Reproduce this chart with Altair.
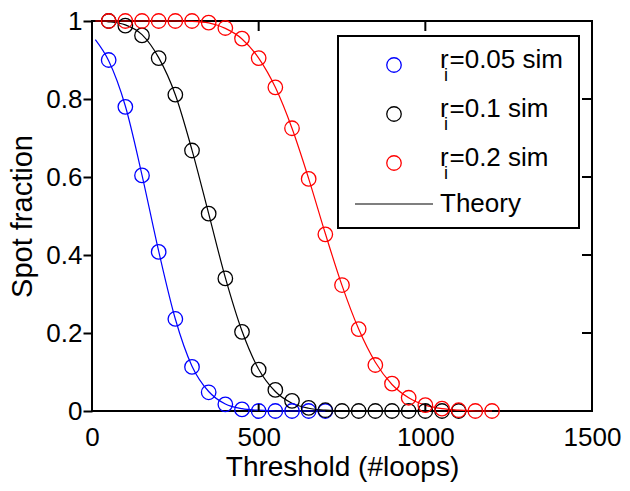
import altair as alt
import pandas as pd

FONT = "Liberation Sans"

# ---------------- data ----------------
series_names = ["r_i=0.05 sim", "r_i=0.1 sim", "r_i=0.2 sim"]
series_colors = ["#0000ff", "#000000", "#ff0000"]

sim_blue_x = [50, 100, 150, 200, 250, 300, 350, 400, 450, 500, 550, 600, 650, 700]
sim_blue_y = [0.90, 0.78, 0.604, 0.408, 0.236, 0.113, 0.048, 0.017, 0.004, 0, 0, 0, 0, 0]

sim_black_x = [50, 100, 150, 200, 250, 300, 350, 400, 450, 500, 550, 600, 650, 700,
               750, 800, 850, 900, 950, 1000, 1050, 1100]
sim_black_y = [1.0, 0.988, 0.963, 0.905, 0.811, 0.668, 0.506, 0.34, 0.203, 0.106, 0.054,
               0.026, 0.008, 0.002, 0, 0, 0, 0, 0, 0, 0, 0]

sim_red_x = [50, 100, 150, 200, 250, 300, 350, 400, 450, 500, 550, 600, 650, 700, 750,
             800, 850, 900, 950, 1000, 1050, 1100, 1150, 1200]
sim_red_y = [1, 1, 1, 1, 1, 1, 0.996, 0.982, 0.955, 0.905, 0.83, 0.725, 0.595, 0.453,
             0.323, 0.21, 0.118, 0.07, 0.034, 0.015, 0.006, 0.002, 0, 0]

th_blue_x = [10, 50, 100, 150, 200, 250, 300, 350, 400, 450, 500, 550, 600, 650, 700]
th_blue_y = [0.952, 0.898, 0.782, 0.605, 0.41, 0.236, 0.115, 0.05, 0.018, 0.006, 0.002,
             0, 0, 0, 0]

th_black_x = [10, 50, 100, 150, 200, 250, 300, 350, 400, 450, 500, 550, 600, 650, 700,
              750, 800, 850, 900, 950, 1000, 1050, 1100]
th_black_y = [1.0, 0.998, 0.99, 0.965, 0.906, 0.811, 0.669, 0.506, 0.342, 0.205, 0.107,
              0.05, 0.02, 0.007, 0.002, 0, 0, 0, 0, 0, 0, 0, 0]

th_red_x = [10, 50, 100, 150, 200, 250, 300, 350, 400, 450, 500, 550, 600, 650, 700, 750,
            800, 850, 900, 950, 1000, 1050, 1100, 1150, 1200]
th_red_y = [1, 1, 1, 1, 1, 1, 0.999, 0.995, 0.981, 0.954, 0.905, 0.83, 0.725, 0.596,
            0.455, 0.322, 0.21, 0.125, 0.068, 0.034, 0.015, 0.006, 0.002, 0, 0]

x_ticks = [0, 500, 1000, 1500]
y_ticks = [0, 0.2, 0.4, 0.6, 0.8, 1.0]

legend_rest = ["=0.05 sim", "=0.1 sim", "=0.2 sim"]
legend_theory = "Theory"

# ---------------- tables ----------------
def build(groups):
    rows = []
    for name, xs, ys in groups:
        for x, y in zip(xs, ys):
            rows.append({"series": name, "threshold": x, "fraction": y})
    return pd.DataFrame(rows)

sim_df = build([(series_names[0], sim_blue_x, sim_blue_y),
                (series_names[1], sim_black_x, sim_black_y),
                (series_names[2], sim_red_x, sim_red_y)])
th_df = build([(series_names[0], th_blue_x, th_blue_y),
               (series_names[1], th_black_x, th_black_y),
               (series_names[2], th_red_x, th_red_y)])

W, H = 500, 390

xscale = alt.Scale(domain=[0, 1500], nice=False, zero=False)
yscale = alt.Scale(domain=[0, 1], nice=False)
cscale = alt.Scale(domain=series_names, range=series_colors)

x_axis = alt.Axis(title="Threshold (#loops)", values=x_ticks, ticks=False, tickSize=0,
                  domain=False, grid=False, labelFontSize=26, labelPadding=13.5,
                  labelFont=FONT, titleFont=FONT, titleFontSize=28, titlePadding=3,
                  titleFontWeight="normal", labelColor="black", titleColor="black",
                  labelFlush=False, labelOverlap=False, format="d")
y_axis = alt.Axis(title="Spot fraction", values=y_ticks, tickSize=9, tickWidth=2,
                  tickColor="black", domain=False, grid=False, labelFontSize=26,
                  labelPadding=1, labelFont=FONT, titleFont=FONT, titleFontSize=29,
                  titlePadding=8, titleFontWeight="normal", labelColor="black",
                  titleColor="black", labelFlush=False, labelOverlap=False,
                  format=".1~f")

X = alt.X("threshold:Q", scale=xscale, axis=x_axis)
Y = alt.Y("fraction:Q", scale=yscale, axis=y_axis)
C = alt.Color("series:N", scale=cscale, legend=None)

lines = alt.Chart(th_df).mark_line(strokeWidth=1.2, interpolate="monotone").encode(
    x=X, y=Y, color=C, detail="series:N")
points = alt.Chart(sim_df).mark_point(shape="circle", filled=False, size=210,
                                      strokeWidth=1.3, opacity=1).encode(
    x=X, y=Y, color=C)

# inward ticks on bottom / top / right
xt_df = pd.DataFrame({"threshold": x_ticks})
yt_df = pd.DataFrame({"fraction": y_ticks})
bottom_ticks = alt.Chart(xt_df).mark_rule(color="black", strokeWidth=2).encode(
    x=alt.X("threshold:Q", scale=xscale), y=alt.value(H), y2=alt.value(H - 7))
top_ticks = alt.Chart(xt_df).mark_rule(color="black", strokeWidth=2).encode(
    x=alt.X("threshold:Q", scale=xscale), y=alt.value(0), y2=alt.value(10))
right_ticks = alt.Chart(yt_df).mark_rule(color="black", strokeWidth=2).encode(
    y=alt.Y("fraction:Q", scale=yscale), x=alt.value(W), x2=alt.value(W - 10))

# ---------------- legend (drawn manually) ----------------
LX = W - 13 - 241   # legend box left edge
one = pd.DataFrame({"k": [0]})
legend_layers = [
    alt.Chart(one).mark_rect(fill="white", stroke="black", strokeWidth=2).encode(
        x=alt.value(LX), x2=alt.value(LX + 241), y=alt.value(15), y2=alt.value(207))
]
row_y = [44, 93, 142]
for i in range(3):
    d = pd.DataFrame({"label": [series_names[i]], "rest": [legend_rest[i]]})
    legend_layers.append(
        alt.Chart(d).mark_point(shape="circle", filled=False, size=210, strokeWidth=1.3,
                                opacity=1, color=series_colors[i]).encode(
            x=alt.value(LX + 56), y=alt.value(row_y[i])))
    legend_layers.append(
        alt.Chart(d).mark_text(align="left", baseline="alphabetic", font=FONT,
                               fontSize=26, color="black").encode(
            x=alt.value(LX + 102), y=alt.value(row_y[i] + 3), text=alt.value("r")))
    legend_layers.append(
        alt.Chart(d).mark_text(align="left", baseline="alphabetic", font=FONT,
                               fontSize=18, color="black").encode(
            x=alt.value(LX + 106), y=alt.value(row_y[i] + 16), text=alt.value("i")))
    legend_layers.append(
        alt.Chart(d).mark_text(align="left", baseline="alphabetic", font=FONT,
                               fontSize=26, color="black").encode(
            x=alt.value(LX + 111.5), y=alt.value(row_y[i] + 3), text="rest:N"))

th_leg = pd.DataFrame({"label": [legend_theory]})
legend_layers.append(
    alt.Chart(th_leg).mark_rule(color="black", strokeWidth=1.2).encode(
        x=alt.value(LX + 17), x2=alt.value(LX + 95), y=alt.value(183)))
legend_layers.append(
    alt.Chart(th_leg).mark_text(align="left", baseline="alphabetic", font=FONT,
                                fontSize=26, color="black").encode(
        x=alt.value(LX + 102), y=alt.value(191), text="label:N"))

chart = alt.layer(lines, points, bottom_ticks, top_ticks, right_ticks,
                  *legend_layers).properties(
    width=W, height=H,
    padding={"left": 84, "top": 13, "right": 30, "bottom": 72},
    autosize=alt.AutoSizeParams(type="none"),
).configure_view(stroke="black", strokeWidth=2)

chart.save("out.html", embed_options={"renderer": "svg", "actions": False})
